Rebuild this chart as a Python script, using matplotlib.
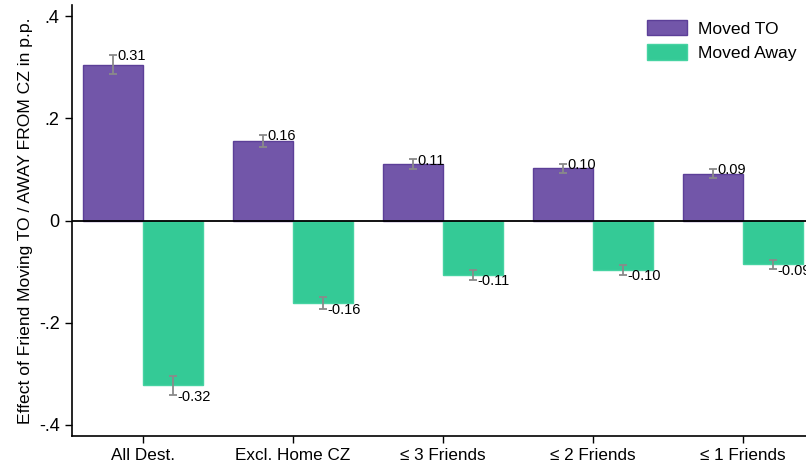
import matplotlib.pyplot as plt
import numpy as np

# Data
categories = ["All Dest.", "Excl. Home CZ", "\u2264 3 Friends", "\u2264 2 Friends", "\u2264 1 Friends"]
moved_to = [0.305, 0.156, 0.110, 0.102, 0.092]
moved_to_err = [0.019, 0.012, 0.0095, 0.009, 0.009]
moved_away = [-0.323, -0.161, -0.106, -0.097, -0.086]
moved_away_err = [0.019, 0.012, 0.01, 0.0095, 0.0095]
to_labels = ["0.31", "0.16", "0.11", "0.10", "0.09"]
away_labels = ["-0.32", "-0.16", "-0.11", "-0.10", "-0.09"]
yticks = [-0.4, -0.2, 0, 0.2, 0.4]
ytick_labels = ["-.4", "-.2", "0", ".2", ".4"]

plt.rcParams['font.family'] = ['Liberation Sans', 'DejaVu Sans']

purple = "#7256a9"
purple_edge = "#5c3f98"
green = "#34ca96"
green_edge = "#46d3a2"
err_col = "#8a8a8a"

fig = plt.figure(figsize=(8.06, 4.67), dpi=100)
# axes runs a bit past the right edge, as in the (cropped) reference
ax = fig.add_axes([72 / 806, 31 / 467, 742 / 806, 431 / 467])

x = np.arange(len(categories))
w = 0.4

ax.bar(x - w / 2, moved_to, w, color=purple, edgecolor=purple_edge, linewidth=1,
       label="Moved TO", zorder=2)
ax.bar(x + w / 2, moved_away, w, color=green, edgecolor=green_edge, linewidth=1,
       label="Moved Away", zorder=2)

ax.errorbar(x - w / 2, moved_to, yerr=moved_to_err, fmt="none", ecolor=err_col,
            elinewidth=1.3, capsize=3, capthick=1.3, zorder=3)
ax.errorbar(x + w / 2, moved_away, yerr=moved_away_err, fmt="none", ecolor=err_col,
            elinewidth=1.3, capsize=3, capthick=1.3, zorder=3)

for i in range(len(categories)):
    ax.annotate(to_labels[i], (x[i] - w / 2, moved_to[i] + moved_to_err[i]),
                xytext=(3, -1), textcoords="offset points", ha="left", va="center",
                fontsize=10.5)
    ax.annotate(away_labels[i], (x[i] + w / 2, moved_away[i] - moved_away_err[i]),
                xytext=(3, -1), textcoords="offset points", ha="left", va="center",
                fontsize=10.5)

ax.axhline(0, color="black", linewidth=1.3, zorder=4)

ax.set_xlim(-0.473, len(categories) - 1 + 0.473)
ax.set_ylim(-0.422, 0.422)
ax.set_yticks(yticks)
ax.set_yticklabels(ytick_labels, fontsize=13)
ax.set_xticks(x)
ax.set_xticklabels(categories, fontsize=12.3)
ax.tick_params(axis="both", direction="out", length=5, width=1, pad=4)
ax.set_ylabel("Effect of Friend Moving TO / AWAY FROM CZ in p.p.", fontsize=12.6, labelpad=4)

for s in ["top", "right"]:
    ax.spines[s].set_visible(False)
for s in ["left", "bottom"]:
    ax.spines[s].set_linewidth(1.2)

fig.legend(loc="upper left", bbox_to_anchor=(640 / 806, 1 - 13 / 467), frameon=False,
           fontsize=12.6, handlelength=2.3, handleheight=0.95, labelspacing=0.45,
           handletextpad=0.6, borderaxespad=0)

fig.savefig("out.png", dpi=100)
